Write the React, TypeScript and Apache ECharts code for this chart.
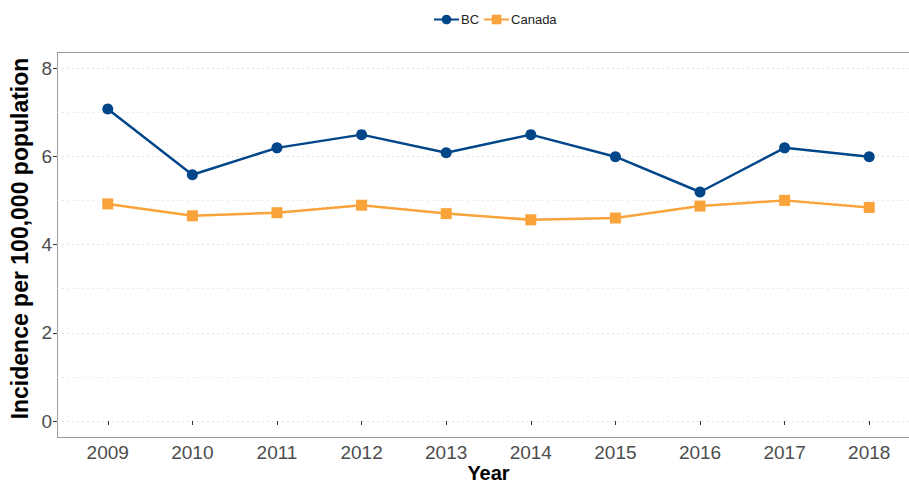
import React, { useEffect, useRef } from "react";
import * as echarts from "echarts";

const years = [2009, 2010, 2011, 2012, 2013, 2014, 2015, 2016, 2017, 2018];
const bcValues = [7.07, 5.58, 6.19, 6.49, 6.08, 6.49, 5.99, 5.19, 6.19, 5.99];
const canadaValues = [4.92, 4.65, 4.72, 4.89, 4.7, 4.56, 4.6, 4.87, 5.0, 4.84];

export default function App() {
  const ref = useRef<HTMLDivElement>(null);
  useEffect(() => {
    document.body.style.margin = "0";
    const chart = echarts.init(ref.current!, null, { renderer: "svg" });
    const font = "Liberation Sans, Arial, sans-serif";
    const frameStyle = { stroke: "#9a9a9a", lineWidth: 1 };
    chart.setOption({
      animation: false,
      backgroundColor: "#ffffff",
      textStyle: { fontFamily: font },
      legend: {
        top: 8,
        left: 428,
        itemWidth: 25,
        itemHeight: 12,
        itemGap: 4,
        textStyle: { fontSize: 13, color: "#222", fontFamily: font, padding: [0, 0, 0, -3] },
        data: ["BC", "Canada"],
      },
      grid: { left: 57, width: 863, top: 68, bottom: 63, outerBoundsMode: "none", containLabel: false },
      graphic: [
        { type: "line", z: -1, silent: true, shape: { x1: 57, y1: 52.5, x2: 909, y2: 52.5 }, style: frameStyle },
        { type: "line", z: -1, silent: true, shape: { x1: 57.5, y1: 52, x2: 57.5, y2: 438 }, style: frameStyle },
        { type: "line", z: -1, silent: true, shape: { x1: 57, y1: 437.5, x2: 909, y2: 437.5 }, style: frameStyle },
      ],
      xAxis: {
        type: "value",
        min: 2008.4,
        max: 2018.6,
        offset: 17,
        axisLine: { show: false },
        axisTick: { show: true, length: 4, lineStyle: { color: "#333" }, customValues: years },
        axisLabel: {
          customValues: years,
          fontSize: 19,
          color: "#4d4d4d",
          margin: 5,
          fontFamily: font,
          formatter: (v: number) => String(v),
        },
        splitLine: { show: false },
        name: "Year",
        nameLocation: "middle",
        nameGap: 25,
        nameMoveOverlap: false,
        nameTextStyle: { fontSize: 20, fontWeight: "bold", color: "#000", fontFamily: font },
      },
      yAxis: {
        type: "value",
        min: 0,
        max: 8,
        interval: 2,
        axisLine: { show: false },
        axisTick: { show: true, length: 4, lineStyle: { color: "#333" } },
        axisLabel: { fontSize: 19, color: "#4d4d4d", margin: 5, fontFamily: font },
        splitLine: { show: true, lineStyle: { color: "#e4e4e4", type: [2, 3], width: 1 } },
        minorTick: { show: false, splitNumber: 2 },
        minorSplitLine: { show: true, lineStyle: { color: "#ececec", type: [2, 3], width: 1 } },
        name: "Incidence per 100,000 population",
        nameLocation: "middle",
        nameGap: 26,
        nameMoveOverlap: false,
        nameTextStyle: { fontSize: 23, fontWeight: "bold", color: "#000", fontFamily: font, padding: [0, 0, 0, 12] },
      },
      series: [
        {
          name: "BC",
          type: "line",
          data: years.map((y, i) => [y, bcValues[i]]),
          symbol: "circle",
          symbolSize: 11,
          lineStyle: { color: "#02468a", width: 2.5 },
          itemStyle: { color: "#02468a" },
        },
        {
          name: "Canada",
          type: "line",
          data: years.map((y, i) => [y, canadaValues[i]]),
          symbol: "rect",
          symbolSize: 11,
          lineStyle: { color: "#f9a33a", width: 2.5 },
          itemStyle: { color: "#f9a33a" },
        },
      ],
    });
    return () => chart.dispose();
  }, []);
  return <div ref={ref} style={{ width: 909, height: 484 }} />;
}
